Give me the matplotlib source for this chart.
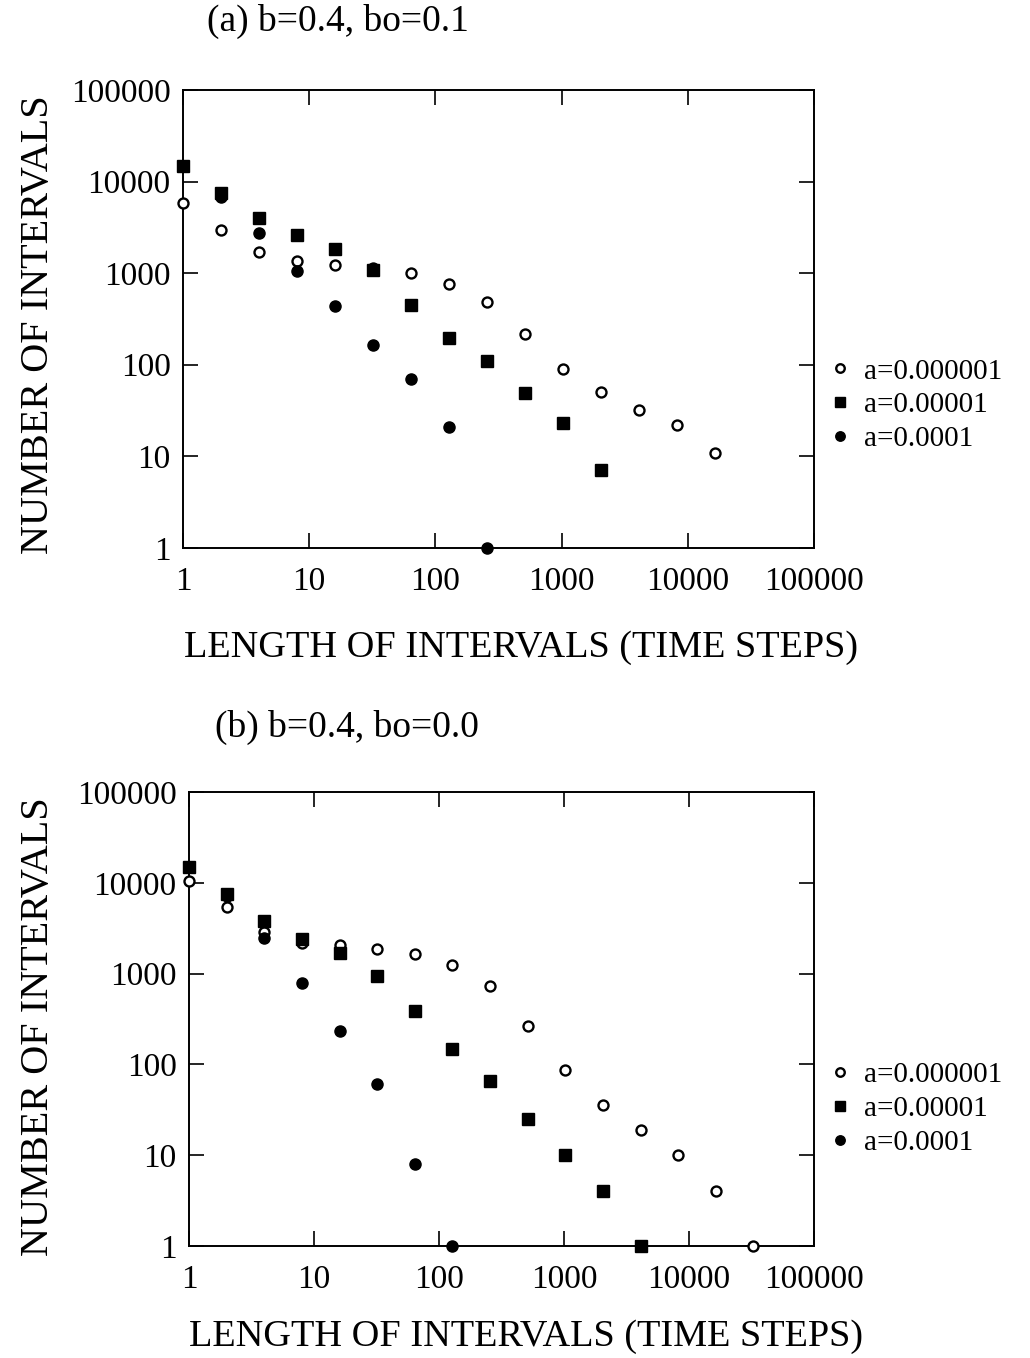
import matplotlib
matplotlib.use("Agg")
import matplotlib.pyplot as plt

plt.rcParams["font.family"] = ["Liberation Serif", "DejaVu Serif"]

# interval lengths (time steps), powers of two
x_open_a = [1, 2, 4, 8, 16, 32, 64, 128, 256, 512, 1024, 2048, 4096, 8192, 16384]
y_open_a = [5900, 2990, 1720, 1340, 1220, 1150, 1000, 757, 489, 217, 90, 51, 32, 22, 11]
x_sq_a = [1, 2, 4, 8, 16, 32, 64, 128, 256, 512, 1024, 2048]
y_sq_a = [14900, 7450, 4030, 2610, 1840, 1085, 447, 195, 110, 49.6, 23, 7.1]
x_fill_a = [2, 4, 8, 16, 32, 64, 128, 256]
y_fill_a = [6850, 2770, 1057, 438, 164, 70.6, 21, 1]

x_open_b = [1, 2, 4, 8, 16, 32, 64, 128, 256, 512, 1024, 2048, 4096, 8192, 16384, 32768]
y_open_b = [10470, 5450, 2850, 2160, 2040, 1850, 1630, 1230, 736, 265, 86.7, 36, 19, 10, 4.07, 1]
x_sq_b = [1, 2, 4, 8, 16, 32, 64, 128, 256, 512, 1024, 2048, 4096]
y_sq_b = [15060, 7530, 3800, 2390, 1670, 942, 385, 149, 65, 25, 10, 4.07, 1]
x_fill_b = [2, 4, 8, 16, 32, 64, 128]
y_fill_b = [7080, 2470, 794, 233, 60.8, 8.0, 1]

labels = ["a=0.000001", "a=0.00001", "a=0.0001"]
titles = ["(a) b=0.4, bo=0.1", "(b) b=0.4, bo=0.0"]
ticks = [1, 10, 100, 1000, 10000, 100000]
tick_labels = ["1", "10", "100", "1000", "10000", "100000"]

fig = plt.figure(figsize=(10.30, 13.58), dpi=100)
ax_a = fig.add_axes([0.1777, 0.5965, 0.6126, 0.3373])
ax_b = fig.add_axes([0.1835, 0.0825, 0.6068, 0.3343])

panels = [
    (ax_a, 0.312, x_open_a, y_open_a, x_sq_a, y_sq_a, x_fill_a, y_fill_a),
    (ax_b, 0.302, x_open_b, y_open_b, x_sq_b, y_sq_b, x_fill_b, y_fill_b),
]

for ax, leg_y, xo, yo, xs, ys, xf, yf in panels:
    ax.plot(xo, yo, "o", ms=7.2, mfc="white", mec="black", mew=1.7,
            label=labels[0], clip_on=False, zorder=3)
    ax.plot(xs, ys, "s", ms=8, color="black", label=labels[1],
            clip_on=False, zorder=4)
    ax.plot(xf, yf, "o", ms=8, color="black", label=labels[2],
            clip_on=False, zorder=5)
    ax.set_xscale("log")
    ax.set_yscale("log")
    ax.set_xlim(1, 100000)
    ax.set_ylim(1, 100000)
    ax.set_xticks(ticks)
    ax.set_xticklabels(tick_labels)
    ax.set_yticks(ticks)
    ax.set_yticklabels(tick_labels)
    ax.minorticks_off()
    ax.tick_params(which="major", direction="in", length=11, width=1.2,
                   top=True, right=True, labelsize=24, pad=9)
    ax.tick_params(axis="x", pad=13)
    for sp in ax.spines.values():
        sp.set_linewidth(1.4)
    ax.legend(loc="center left", bbox_to_anchor=(1.0, leg_y), frameon=False,
              fontsize=21, handletextpad=0.3, labelspacing=0.25,
              handlelength=1.0, borderaxespad=0.0, markerscale=0.85)

fig.text(0.201, 0.984, titles[0], fontsize=27, va="center", ha="left")
fig.text(0.209, 0.464, titles[1], fontsize=27, va="center", ha="left")
fig.text(0.506, 0.523, "LENGTH OF INTERVALS (TIME STEPS)", fontsize=27.5,
         ha="center", va="center")
fig.text(0.511, 0.016, "LENGTH OF INTERVALS (TIME STEPS)", fontsize=27.5,
         ha="center", va="center")
fig.text(0.037, 0.7607, "NUMBER OF INTERVALS", fontsize=29, rotation=90,
         ha="center", va="center")
fig.text(0.037, 0.2437, "NUMBER OF INTERVALS", fontsize=29, rotation=90,
         ha="center", va="center")

fig.savefig("out.png", dpi=100)
